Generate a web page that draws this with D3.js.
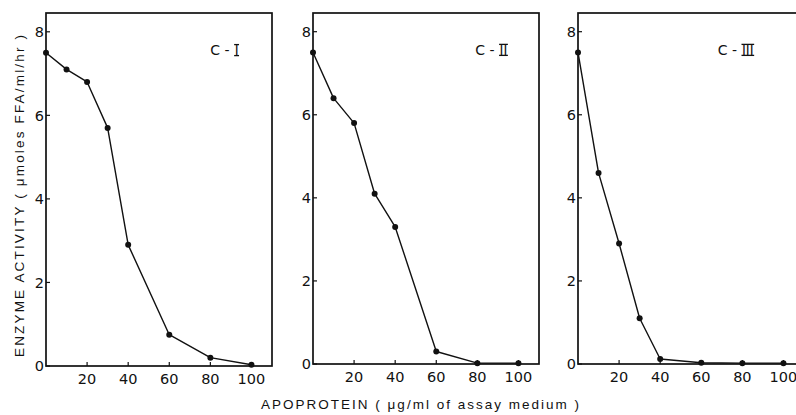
<!DOCTYPE html>
<meta charset="utf-8">
<style>
    body { margin: 0; background: #fff; }
    svg { display: block; overflow: hidden; }
    .tick-label { font-family: 'DejaVu Sans', sans-serif; font-size: 14.5px; fill: #111; }
    .axis-title { font-family: 'Liberation Sans', Arial, sans-serif; font-size: 13.5px; fill: #111; }
    .panel-label { font-family: 'DejaVu Sans', sans-serif; font-size: 14px; fill: #111; }
    .numeral { font-family: 'Liberation Sans', Arial, sans-serif; font-size: 14px; fill: #111; }
    .frame { fill: none; stroke: #111; stroke-width: 1.7; }
    .curve { fill: none; stroke: #111; stroke-width: 1.4; stroke-linejoin: round; }
</style>
<svg width="796" height="415"></svg>
<script src="https://d3js.org/d3.v7.min.js"></script>
<script>
    // apoprotein concentration (ug/ml) and enzyme activity
    var doseCI   = [0, 10, 20, 30, 40, 60, 80, 100];
    var actCI    = [7.5, 7.1, 6.8, 5.7, 2.9, 0.75, 0.2, 0.03];
    var doseCII  = [0, 10, 20, 30, 40, 60, 80, 100];
    var actCII   = [7.5, 6.4, 5.8, 4.1, 3.3, 0.3, 0.02, 0.02];
    var doseCIII = [0, 10, 20, 30, 40, 60, 80, 100];
    var actCIII  = [7.5, 4.6, 2.9, 1.1, 0.12, 0.03, 0.02, 0.02];

    var panelNames = ["I", "II", "III"];
    var xTicks = [20, 40, 60, 80, 100];
    var yTicks = [0, 2, 4, 6, 8];

    var svg = d3.select("svg");

    // layout: left edge of each panel, label anchor (in data units)
    var panels = [
        { name: panelNames[0], dose: doseCI,   act: actCI,   left: 46,  bottom: 366, labelAt: 80 },
        { name: panelNames[1], dose: doseCII,  act: actCII,  left: 313, bottom: 364, labelAt: 79 },
        { name: panelNames[2], dose: doseCIII, act: actCIII, left: 578, bottom: 364, labelAt: 68 }
    ];
    var panelW = 226, frameTop = 13;

    panels.forEach(function(p) {
        var x = d3.scaleLinear().domain([0, 110]).range([p.left, p.left + panelW]);
        var y = d3.scaleLinear().domain([0, 8.45]).range([p.bottom, frameTop]);
        var g = svg.append("g");

        g.append("rect")
            .attr("class", "frame")
            .attr("x", x(0))
            .attr("y", y(8.45))
            .attr("width", x(110) - x(0))
            .attr("height", y(0) - y(8.45));

        // y ticks (inward)
        g.selectAll(".yt").data(yTicks).enter().append("line")
            .attr("x1", x(0)).attr("x2", x(0) + 4)
            .attr("y1", function(d) { return y(d); })
            .attr("y2", function(d) { return y(d); })
            .attr("stroke", "#111").attr("stroke-width", 1.2);
        g.selectAll(".yl").data(yTicks).enter().append("text")
            .attr("class", "tick-label")
            .attr("x", x(0) - 2)
            .attr("y", function(d) { return y(d); })
            .attr("dy", "0.36em")
            .attr("text-anchor", "end")
            .text(function(d) { return d; });

        // x ticks (inward)
        g.selectAll(".xt").data(xTicks).enter().append("line")
            .attr("x1", function(d) { return x(d); })
            .attr("x2", function(d) { return x(d); })
            .attr("y1", y(0)).attr("y2", y(0) - 4)
            .attr("stroke", "#111").attr("stroke-width", 1.2);
        g.selectAll(".xl").data(xTicks).enter().append("text")
            .attr("class", "tick-label")
            .attr("x", function(d) { return x(d); })
            .attr("y", y(0) + 18)
            .attr("text-anchor", "middle")
            .text(function(d) { return d; });

        var pts = p.dose.map(function(d, i) { return [d, p.act[i]]; });
        var line = d3.line()
            .x(function(d) { return x(d[0]); })
            .y(function(d) { return y(d[1]); });

        g.append("path")
            .datum(pts)
            .attr("class", "curve")
            .attr("d", line);

        g.selectAll("circle").data(pts).enter().append("circle")
            .attr("cx", function(d) { return x(d[0]); })
            .attr("cy", function(d) { return y(d[1]); })
            .attr("r", 3)
            .attr("fill", "#111");

        // panel label "C - " + roman numeral with bars top and bottom
        var lab = g.append("text")
            .attr("class", "panel-label")
            .attr("x", x(p.labelAt))
            .attr("y", y(7.55))
            .attr("dy", "0.35em")
            .text("C -");
        var lb = lab.node().getBBox();
        var num = g.append("text")
            .attr("class", "numeral")
            .attr("x", lb.x + lb.width + 5)
            .attr("y", y(7.55))
            .attr("dy", "0.35em")
            .text(p.name);
        var nb = num.node().getBBox();
        var capTop = y(7.55) - 6, capBot = y(7.55) + 5;
        [capTop, capBot].forEach(function(yy) {
            g.append("line")
                .attr("x1", nb.x - 0.5).attr("x2", nb.x + nb.width + 0.5)
                .attr("y1", yy).attr("y2", yy)
                .attr("stroke", "#111").attr("stroke-width", 1.3);
        });
    });

    svg.append("text")
        .attr("class", "axis-title")
        .attr("transform", "translate(19,196) rotate(-90)")
        .attr("text-anchor", "middle")
        .attr("dy", "0.35em")
        .attr("textLength", 322)
        .attr("lengthAdjust", "spacing")
        .text("ENZYME  ACTIVITY  ( \u03bcmoles FFA/ml/hr )");

    svg.append("text")
        .attr("class", "axis-title")
        .attr("x", 420)
        .attr("y", 404)
        .attr("text-anchor", "middle")
        .attr("dy", "0.35em")
        .attr("textLength", 318)
        .attr("lengthAdjust", "spacing")
        .text("APOPROTEIN ( \u03bcg/ml of assay medium )");
</script>
